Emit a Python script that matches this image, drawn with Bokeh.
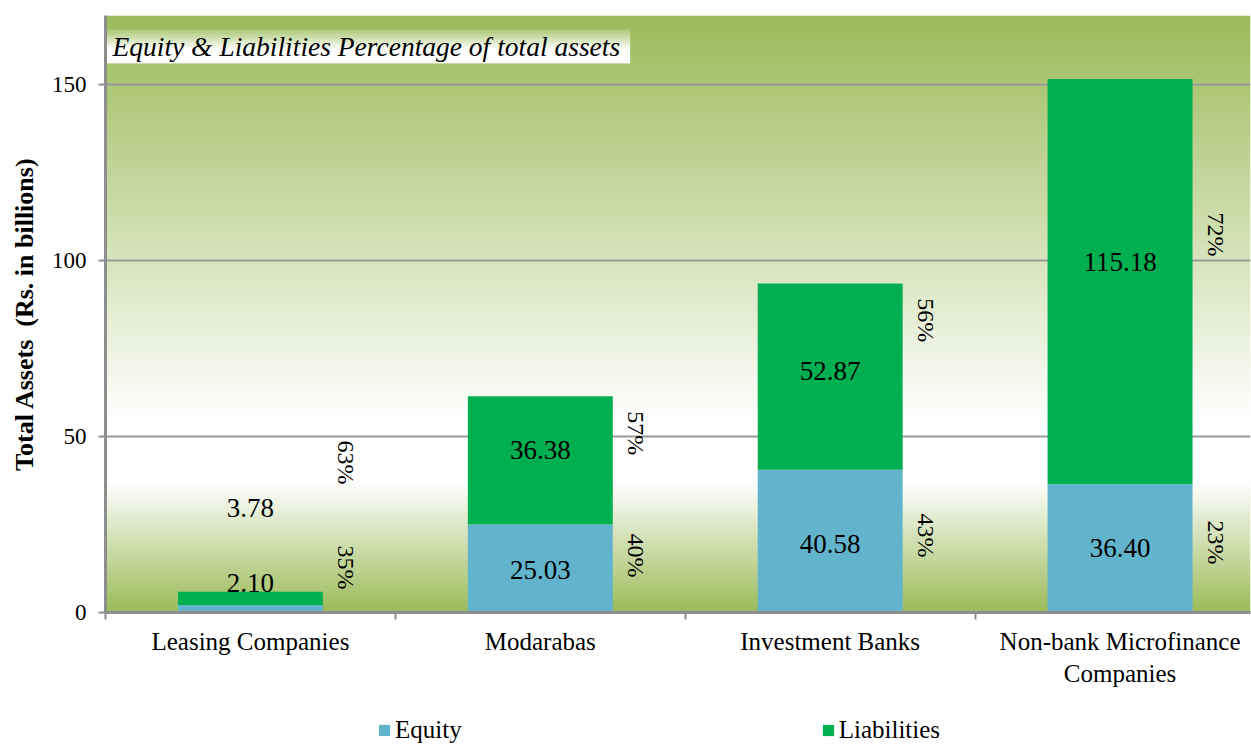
import numpy as np
from bokeh.plotting import figure
from bokeh.layouts import column
from bokeh.models import Range1d, FixedTicker, Legend, LegendItem
from bokeh.core.properties import value
from bokeh.embed import file_html
from bokeh.resources import INLINE

# ---- data ----
categories = ["Leasing Companies", "Modarabas", "Investment Banks",
              "Non-bank Microfinance\nCompanies"]
series_names = ["Equity", "Liabilities"]
equity = [2.10, 25.03, 40.58, 36.40]
liabilities = [3.78, 36.38, 52.87, 115.18]
equity_pct = ["35%", "40%", "43%", "23%"]
liab_pct = ["63%", "57%", "56%", "72%"]
y_ticks = [0, 50, 100, 150]
title_text = "Equity & Liabilities Percentage of total assets"
y_label = "Total Assets\u00a0 (Rs. in billions)"

# ---- annotation anchors (label layout as placed in the original) ----
equity_label_y = [8.5, 12.2, 19.6, 18.2]
liab_label_y = [29.8, 46.3, 68.5, 99.7]
equity_pct_y = [12.8, 16.2, 21.9, 19.9]
liab_pct_y = [42.6, 50.9, 83.0, 107.4]

FONT = value("Liberation Serif")
GREEN_BG = np.array([155, 187, 89])
WHITE = np.array([255, 255, 255])
EQ_COLOR = "#62B4CD"
LI_COLOR = "#00AF50"
AXIS_GRAY = "#8E8E8E"

x_centers = [i + 0.5 for i in range(len(categories))]
totals = [e + l for e, l in zip(equity, liabilities)]
Y_MAX = 169.6
X_MAX = 3.95

p = figure(width=1251, height=712, x_range=Range1d(0, X_MAX), y_range=Range1d(0, Y_MAX),
           output_backend="svg", toolbar_location=None,
           min_border_left=105, min_border_right=1, min_border_top=15, min_border_bottom=100)
p.outline_line_color = None
p.background_fill_color = "white"
p.border_fill_color = "white"


def grad(f):
    stops = [(0.0, GREEN_BG), (0.68, WHITE), (0.78, WHITE), (1.0, GREEN_BG)]
    for (f0, c0), (f1, c1) in zip(stops[:-1], stops[1:]):
        if f0 <= f <= f1:
            t = 0 if f1 == f0 else (f - f0) / (f1 - f0)
            return c0 + (c1 - c0) * t
    return GREEN_BG


def rgba_column(colors):
    arr = np.zeros((len(colors), 1), dtype=np.uint32)
    view = arr.view(dtype=np.uint8).reshape((len(colors), 1, 4))
    for i, c in enumerate(colors):
        c = np.clip(np.round(c), 0, 255).astype(np.uint8)
        view[i, 0, 0:3] = c
        view[i, 0, 3] = 255
    return arr


# gradient background of the plot area (row 0 = bottom)
n = 600
bg_cols = [grad(1 - (i + 0.5) / n) for i in range(n)]
p.image_rgba(image=[rgba_column(bg_cols)], x=0, y=0, dw=X_MAX, dh=Y_MAX, level="image")

# bars
p.vbar(x=x_centers, width=0.5, bottom=0, top=equity,
       fill_color=EQ_COLOR, line_color=None)
p.vbar(x=x_centers, width=0.5, bottom=equity, top=totals,
       fill_color=LI_COLOR, line_color=None)

# title box with gradient (green at top fading to white)
tb_n = 60
tb_cols = []
for i in range(tb_n):
    f = (i + 0.5) / tb_n  # 0 bottom, 1 top
    w = min(1.0, (1 - f) / 0.6)
    tb_cols.append(np.array([168, 197, 112]) * (1 - w) + WHITE * w)
p.image_rgba(image=[rgba_column(tb_cols)], x=0, y=156.0, dw=1.81, dh=9.6)
p.text(x=[0.024], y=[160.7], text=[title_text], text_font=FONT,
       text_font_style="italic", text_font_size="27.5px",
       text_baseline="middle", text_align="left", text_color="black")

# value labels
p.text(x=x_centers, y=equity_label_y, text=["%.2f" % v for v in equity],
       text_font=FONT, text_font_size="27px", text_align="center",
       text_baseline="middle", text_color="black")
p.text(x=x_centers, y=liab_label_y, text=["%.2f" % v for v in liabilities],
       text_font=FONT, text_font_size="27px", text_align="center",
       text_baseline="middle", text_color="black")

# percentage labels (rotated)
pct_x = [c + 0.33 for c in x_centers]
p.text(x=pct_x, y=equity_pct_y, text=equity_pct, angle=-np.pi / 2,
       text_font=FONT, text_font_size="24px", text_align="center",
       text_baseline="middle", text_color="black")
p.text(x=pct_x, y=liab_pct_y, text=liab_pct, angle=-np.pi / 2,
       text_font=FONT, text_font_size="24px", text_align="center",
       text_baseline="middle", text_color="black")

# axes
p.yaxis.ticker = FixedTicker(ticks=y_ticks, minor_ticks=[])
p.yaxis.axis_label = y_label
p.yaxis.axis_label_text_font = "Liberation Serif"
p.yaxis.axis_label_text_font_style = "bold"
p.yaxis.axis_label_text_font_size = "26px"
p.yaxis.axis_label_text_color = "black"
p.yaxis.axis_label_standoff = 10
p.yaxis.major_label_text_font = "Liberation Serif"
p.yaxis.major_label_text_font_size = "23px"
p.yaxis.major_label_text_color = "black"
p.yaxis.major_label_standoff = 12
p.yaxis.major_tick_out = 7
p.yaxis.major_tick_in = 0
p.yaxis.minor_tick_out = 0
p.yaxis.minor_tick_in = 0
p.yaxis.axis_line_color = AXIS_GRAY
p.yaxis.axis_line_width = 3
p.yaxis.major_tick_line_color = AXIS_GRAY
p.yaxis.major_tick_line_width = 2

p.xaxis.ticker = FixedTicker(ticks=x_centers, minor_ticks=[0, 1, 2, 3])
p.xaxis.major_label_overrides = {c: lab for c, lab in zip(x_centers, categories)}
p.xaxis.major_label_text_font = "Liberation Serif"
p.xaxis.major_label_text_font_size = "25px"
p.xaxis.major_label_text_color = "black"
p.xaxis.major_label_standoff = 8
p.xaxis.major_tick_out = 0
p.xaxis.major_tick_in = 0
p.xaxis.minor_tick_out = 7
p.xaxis.minor_tick_in = 0
p.xaxis.minor_tick_line_color = AXIS_GRAY
p.xaxis.minor_tick_line_width = 2
p.xaxis.axis_line_color = AXIS_GRAY
p.xaxis.axis_line_width = 3

p.xgrid.visible = False
p.ygrid.ticker = FixedTicker(ticks=[50, 100, 150])
p.ygrid.grid_line_color = "#999999"
p.ygrid.grid_line_width = 2

# ---- legend strip below the chart (frame aligned with the chart's frame) ----
lg = figure(width=1251, height=32, x_range=Range1d(0, 1), y_range=Range1d(0, 1),
            output_backend="svg", toolbar_location=None,
            x_axis_location=None, y_axis_location=None,
            min_border_left=0, min_border_right=0, min_border_top=0, min_border_bottom=0)
lg.outline_line_color = None
lg.xgrid.visible = False
lg.ygrid.visible = False
lg.background_fill_color = "white"
lg.border_fill_color = "white"
# swatch renderers lying fully outside the visible ranges; only their legend glyphs show
sw_eq = lg.vbar(x=[-10], width=0.1, bottom=[-6], top=[-5], fill_color=EQ_COLOR, line_color=None)
sw_li = lg.vbar(x=[-10], width=0.1, bottom=[-6], top=[-5], fill_color=LI_COLOR, line_color=None)
legend = Legend(items=[LegendItem(label=series_names[0], renderers=[sw_eq]),
                       LegendItem(label=series_names[1], renderers=[sw_li])],
                location=(272, 0), orientation="horizontal", spacing=359,
                padding=0, margin=0, border_line_color=None,
                background_fill_alpha=0, label_text_font="Liberation Serif",
                label_text_font_size="25px", glyph_width=14, glyph_height=14,
                label_standoff=4, label_text_color="black")
lg.add_layout(legend)

layout = column(p, lg, spacing=0)
open("out.html", "w").write(file_html(layout, INLINE))
